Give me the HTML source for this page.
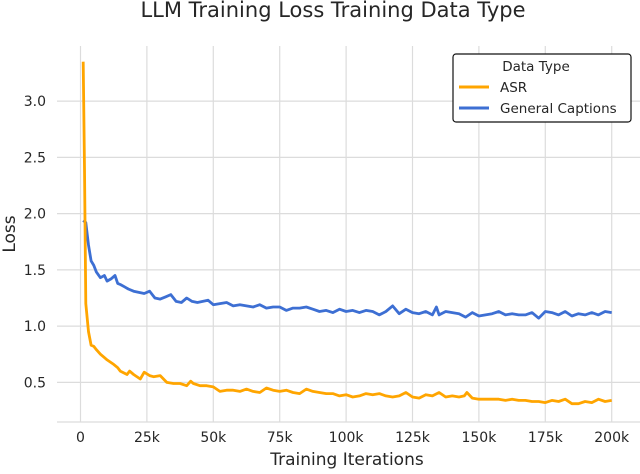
<!DOCTYPE html>
<html><head><meta charset="utf-8"><style>
body{margin:0;background:#fff;}
svg text{font-family:"DejaVu Sans","Liberation Sans",sans-serif;fill:#262626;}
</style></head><body>
<svg id="chart" width="640" height="469" viewBox="0 0 640 469" xmlns="http://www.w3.org/2000/svg">
<rect x="57" y="46" width="583" height="376" fill="#fff"/>
<g id="grid"></g>
<g id="ticks"></g>
<g id="series"></g>
<text x="333" y="17" text-anchor="middle" font-size="21">LLM Training Loss Training Data Type</text>
<text x="347" y="465" text-anchor="middle" font-size="17">Training Iterations</text>
<text transform="translate(15,234) rotate(-90)" text-anchor="middle" font-size="17">Loss</text>
<g>
<rect x="453" y="54" width="178" height="68" rx="3" fill="#fff" stroke="#111" stroke-width="1.2"/>
<text x="536" y="71" text-anchor="middle" font-size="13.5">Data Type</text>
<line x1="459" y1="87" x2="489" y2="87" stroke="#FFA500" stroke-width="3"/>
<text x="500" y="92" font-size="13.5">ASR</text>
<line x1="459" y1="108" x2="489" y2="108" stroke="#3D6FD3" stroke-width="3"/>
<text x="500" y="113" font-size="13.5">General Captions</text>
</g>
</svg>
<script>
const xTicks=[0,25000,50000,75000,100000,125000,150000,175000,200000];
const xTickLabels=["0","25k","50k","75k","100k","125k","150k","175k","200k"];
const yTicks=[0.5,1.0,1.5,2.0,2.5,3.0];
const yTickLabels=["0.5","1.0","1.5","2.0","2.5","3.0"];
const asrSteps=[1000,1500,2000,3000,4000,5000,6000,7500,9000,10000,12500,14000,15000,17500,18500,20000,22500,24000,26000,27500,30000,32500,35000,37500,40000,41500,42500,45000,47500,50000,52500,55000,57500,60000,62500,65000,67500,70000,72500,75000,77500,80000,82500,85000,87500,90000,92500,95000,97500,100000,102500,105000,107500,110000,112500,115000,117500,120000,122500,125000,127500,130000,132500,135000,137500,140000,142500,144500,145500,147500,150000,152500,155000,157500,160000,162500,165000,167500,170000,172500,175000,177500,180000,182500,185000,187500,190000,192500,195000,197500,200000];
const asrLoss=[3.35,2.40,1.20,0.95,0.83,0.82,0.79,0.75,0.72,0.70,0.66,0.63,0.60,0.57,0.60,0.57,0.53,0.59,0.56,0.55,0.56,0.50,0.49,0.49,0.47,0.51,0.49,0.47,0.47,0.46,0.42,0.43,0.43,0.42,0.44,0.42,0.41,0.45,0.43,0.42,0.43,0.41,0.40,0.44,0.42,0.41,0.40,0.40,0.38,0.39,0.37,0.38,0.40,0.39,0.40,0.38,0.37,0.38,0.41,0.37,0.36,0.39,0.38,0.41,0.37,0.38,0.37,0.38,0.41,0.36,0.35,0.35,0.35,0.35,0.34,0.35,0.34,0.34,0.33,0.33,0.32,0.34,0.33,0.35,0.31,0.31,0.33,0.32,0.35,0.33,0.34];
const capSteps=[1000,2000,3000,4000,5000,6000,7500,9000,10000,11500,13000,14000,15000,16500,18000,20000,22000,24000,26000,28000,30000,32000,34000,36000,38000,40000,42000,44000,46000,48000,50000,52500,55000,57500,60000,62500,65000,67500,70000,72500,75000,77500,80000,82500,85000,87500,90000,92500,95000,97500,100000,102500,105000,107500,110000,112500,115000,117500,120000,122500,125000,127500,130000,132500,134000,135000,137500,140000,142500,145000,147500,150000,152500,155000,157500,160000,162500,165000,167500,170000,172500,175000,177500,180000,182500,185000,187500,190000,192500,195000,197500,200000];
const capLoss=[1.94,1.92,1.72,1.58,1.54,1.48,1.43,1.45,1.40,1.42,1.45,1.38,1.37,1.35,1.33,1.31,1.30,1.29,1.31,1.25,1.24,1.26,1.28,1.22,1.21,1.25,1.22,1.21,1.22,1.23,1.19,1.20,1.21,1.18,1.19,1.18,1.17,1.19,1.16,1.17,1.17,1.14,1.16,1.16,1.17,1.15,1.13,1.14,1.12,1.15,1.13,1.14,1.12,1.14,1.13,1.10,1.13,1.18,1.11,1.15,1.12,1.11,1.13,1.10,1.17,1.10,1.13,1.12,1.11,1.08,1.12,1.09,1.10,1.11,1.13,1.10,1.11,1.10,1.10,1.12,1.07,1.13,1.12,1.10,1.13,1.09,1.11,1.10,1.12,1.10,1.13,1.12];
const NS='http://www.w3.org/2000/svg';
const X0=80.5,XS=66.4/25000,Y0=438.6,YS=112.5;
function xs(v){return X0+v*XS;}
function ys(v){return Y0-v*YS;}
const grid=document.getElementById('grid'),ticks=document.getElementById('ticks'),series=document.getElementById('series');
xTicks.forEach((t,i)=>{
  const l=document.createElementNS(NS,'line');
  l.setAttribute('x1',xs(t));l.setAttribute('x2',xs(t));l.setAttribute('y1',46);l.setAttribute('y2',422);
  l.setAttribute('stroke','#dcdcdc');l.setAttribute('stroke-width','1.2');
  
  
  grid.appendChild(l);
  const tx=document.createElementNS(NS,'text');
  tx.setAttribute('x',xs(t));tx.setAttribute('y',442);tx.setAttribute('text-anchor','middle');tx.setAttribute('font-size','14');
  tx.textContent=xTickLabels[i];
  
  
  ticks.appendChild(tx);
});
yTicks.forEach((t,i)=>{
  const l=document.createElementNS(NS,'line');
  l.setAttribute('x1',57);l.setAttribute('x2',640);l.setAttribute('y1',ys(t));l.setAttribute('y2',ys(t));
  l.setAttribute('stroke','#dcdcdc');l.setAttribute('stroke-width','1.2');
  
  
  grid.appendChild(l);
  const tx=document.createElementNS(NS,'text');
  tx.setAttribute('x',46);tx.setAttribute('y',ys(t)+5);tx.setAttribute('text-anchor','end');tx.setAttribute('font-size','14');
  tx.textContent=yTickLabels[i];
  
  
  ticks.appendChild(tx);
});
const ax=document.createElementNS(NS,'line');
ax.setAttribute('x1',57);ax.setAttribute('x2',640);ax.setAttribute('y1',422);ax.setAttribute('y2',422);ax.setAttribute('stroke','#dcdcdc');ax.setAttribute('stroke-width','1.2');


grid.appendChild(ax);
function line(xsArr,vals,color,name){
  const p=document.createElementNS(NS,'polyline');
  p.setAttribute('points',xsArr.map((s,i)=>xs(s).toFixed(1)+','+ys(vals[i]).toFixed(1)).join(' '));
  p.setAttribute('fill','none');p.setAttribute('stroke',color);p.setAttribute('stroke-width','2.8');p.setAttribute('stroke-linejoin','round');
  
  
  series.appendChild(p);
}
line(capSteps,capLoss,'#3D6FD3','general-captions-line');
line(asrSteps,asrLoss,'#FFA500','asr-line');
</script>
</body></html>
